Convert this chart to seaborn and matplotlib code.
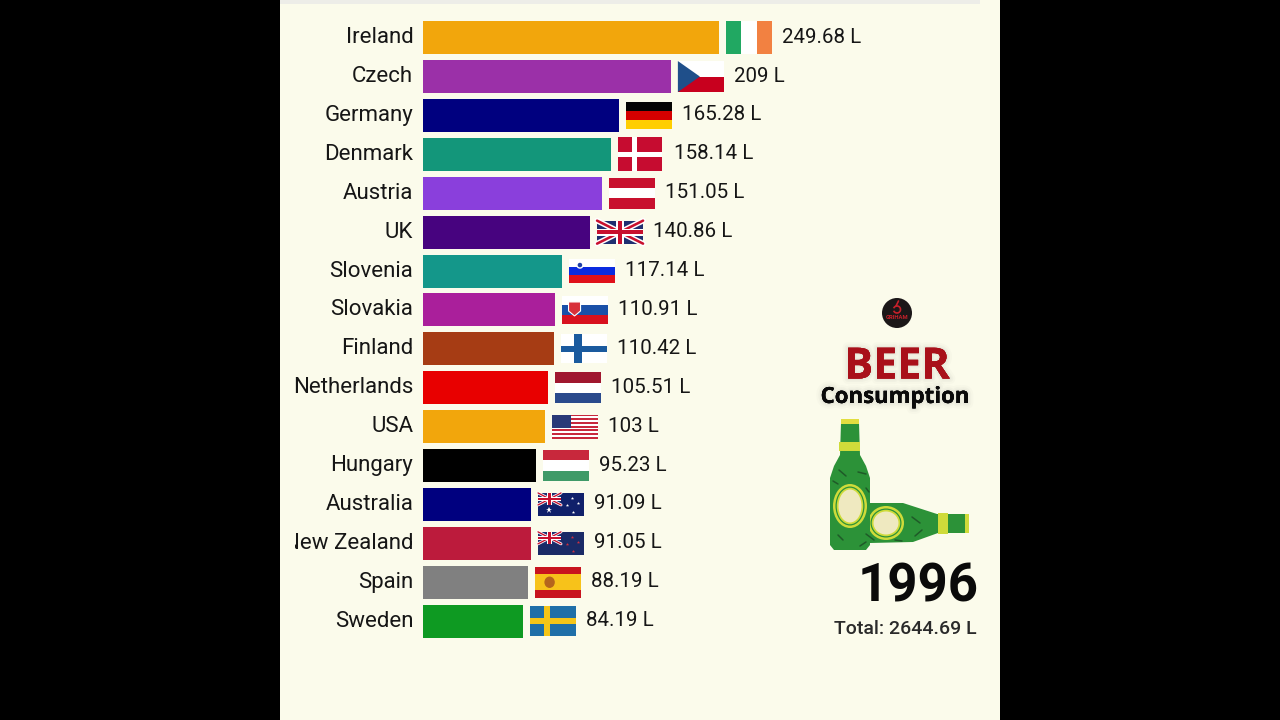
import matplotlib
matplotlib.use('Agg')
import matplotlib.pyplot as plt
import matplotlib.patheffects as pe
from matplotlib.patches import Rectangle, Polygon, Ellipse, Circle, Arc
from matplotlib.transforms import Bbox, ScaledTranslation
import pandas as pd
import seaborn as sns

countries = ['Ireland', 'Czech', 'Germany', 'Denmark', 'Austria', 'UK', 'Slovenia', 'Slovakia',
             'Finland', 'Netherlands', 'USA', 'Hungary', 'Australia', 'New Zealand', 'Spain', 'Sweden']
litres = [249.68, 209, 165.28, 158.14, 151.05, 140.86, 117.14, 110.91,
          110.42, 105.51, 103, 95.23, 91.09, 91.05, 88.19, 84.19]
bar_colors = ['#F2A60C', '#9B30A8', '#00007F', '#13967A', '#8A3FDC', '#47037F', '#14978A', '#AA1F9B',
              '#A63C14', '#E80000', '#F2A60C', '#000000', '#00007F', '#BC1B3C', '#808080', '#0E9A22']
year = '1996'
total = 'Total: 2644.69 L'

CREAM = '#FBFBEB'
sns.set_theme(style='white')
plt.rcParams['font.family'] = ['Roboto', 'DejaVu Sans']

fig = plt.figure(figsize=(12.8, 7.2), dpi=100, facecolor='black')

# whole figure axes in pixels, for the panel and the pictures
deco = fig.add_axes([0, 0, 1, 1], zorder=0)
deco.set_xlim(0, 1280)
deco.set_ylim(720, 0)
deco.axis('off')
deco.add_patch(Rectangle((280, 0), 720, 720, color=CREAM, lw=0))
deco.add_patch(Rectangle((280, 0), 700, 3.5, color='#EDEDE8', lw=0))

ax = fig.add_axes([423 / 1280, (720 - 640.6) / 720, 577 / 1280, 622.4 / 720], zorder=1)
ax.patch.set_alpha(0)
df = pd.DataFrame({'country': countries, 'litres': litres})
sns.barplot(data=df, x='litres', y='country', hue='country', palette=bar_colors,
            dodge=False, legend=False, width=0.85, saturation=1, linewidth=0, ax=ax)
ax.set_xlim(0, 577 / 1.186)
ax.set_ylim(15.5, -0.5)
ax.set_xlabel('')
ax.set_ylabel('')
ax.set_xticks([])
sns.despine(ax=ax, left=True, bottom=True)
ax.tick_params(axis='y', length=0, pad=7, labelsize=16, labelcolor='#161616')
up = ScaledTranslation(0, 2.5 / 100, fig.dpi_scale_trans)
for lab in ax.get_yticklabels():
    lab.set_transform(lab.get_transform() + up)
    lab.set_clip_on(True)
    lab.set_clip_box(Bbox([[295, 0], [423, 720]]))


def r(x0, y0, x1, y1, c, z=2):
    return deco.add_patch(Rectangle((x0, y0), x1 - x0, y1 - y0, color=c, lw=0, zorder=z))


def hbands(x, y, h, cols):
    for i, c in enumerate(cols):
        r(x, y + h * i / len(cols), x + 46, y + h * (i + 1) / len(cols), c)


def union(x, y, w, h):
    clip = r(x, y, x + w, y + h, '#1F2F70')
    lw = h * 0.16
    for xs, ys in [((x, x + w), (y, y + h)), ((x, x + w), (y + h, y))]:
        deco.plot(xs, ys, color='white', lw=lw * 1.1, zorder=3, clip_path=clip)
        deco.plot(xs, ys, color='#C8102E', lw=lw * 0.5, zorder=3, clip_path=clip)
    r(x + w * 0.41, y, x + w * 0.59, y + h, 'white', 3)
    r(x, y + h * 0.35, x + w, y + h * 0.65, 'white', 3)
    r(x + w * 0.45, y, x + w * 0.55, y + h, '#C8102E', 3)
    r(x, y + h * 0.41, x + w, y + h * 0.59, '#C8102E', 3)


def draw_flag(name, x, cy):
    if name == 'Ireland':
        hb = [(0, '#21A862'), (1, '#FFFFFF'), (2, '#F28141')]
        for i, c in hb:
            r(x + i * 46 / 3, cy - 16.5, x + (i + 1) * 46 / 3, cy + 16.5, c)
    elif name == 'Czech':
        y = cy - 15.5
        hbands(x, y, 31, ['#FFFFFF', '#C8001E'])
        deco.add_patch(Polygon([(x, y), (x + 22, y + 15.5), (x, y + 31)], color='#1F4F8A', lw=0, zorder=3))
    elif name == 'Germany':
        hbands(x, cy - 13.5, 27, ['#050505', '#D40000', '#FFCE00'])
    elif name == 'Denmark':
        r(x, cy - 17, x + 44, cy + 17, '#C60C30')
        r(x + 14, cy - 17, x + 19, cy + 17, 'white', 3)
        r(x, cy - 2.5, x + 44, cy + 2.5, 'white', 3)
    elif name == 'Austria':
        hbands(x, cy - 15.5, 31, ['#C8102E', '#FFFFFF', '#C8102E'])
    elif name == 'UK':
        union(x, cy - 11.5, 46, 23)
    elif name == 'Slovenia':
        hbands(x, cy - 12, 24, ['#FFFFFF', '#0A2BE0', '#E0101A'])
        deco.add_patch(Circle((x + 11, cy - 6), 3, color='#1F3FA8', ec='white', zorder=3))
    elif name == 'Slovakia':
        hbands(x, cy - 14, 28, ['#FFFFFF', '#1A50A8', '#D8101E'])
        deco.add_patch(Polygon([(x + 7, cy - 8), (x + 19, cy - 8), (x + 19, cy + 1), (x + 13, cy + 6), (x + 7, cy + 1)],
                               facecolor='#D8303A', edgecolor='white', lw=0.8, zorder=3))
    elif name == 'Finland':
        r(x, cy - 14.5, x + 46, cy + 14.5, 'white')
        r(x + 13, cy - 14.5, x + 21, cy + 14.5, '#1A5A9E', 3)
        r(x, cy - 3, x + 46, cy + 3, '#1A5A9E', 3)
    elif name == 'Netherlands':
        hbands(x, cy - 15.5, 31, ['#A0172F', '#FFFFFF', '#2A4A8C'])
    elif name == 'USA':
        for i in range(13):
            r(x, cy - 12 + i * 24 / 13, x + 46, cy - 12 + (i + 1) * 24 / 13, '#C8283C' if i % 2 == 0 else 'white')
        r(x, cy - 12, x + 19, cy + 1, '#2A3A78', 3)
    elif name == 'Hungary':
        hbands(x, cy - 15.5, 31, ['#C8283C', '#FFFFFF', '#3F9A68'])
    elif name in ('Australia', 'New Zealand'):
        r(x, cy - 11.5, x + 46, cy + 11.5, '#10206A' if name == 'Australia' else '#1A2A66')
        union(x, cy - 11.5, 23, 12)
        c = 'white' if name == 'Australia' else '#D03040'
        deco.plot([x + 34, x + 40, x + 29, x + 35], [cy - 6, cy - 1, cy + 1, cy + 8], ls='', marker='*', ms=2.5,
                  mew=0, color=c, zorder=4)
        if name == 'Australia':
            deco.plot([x + 11], [cy + 6], ls='', marker='*', ms=5, mew=0, color='white', zorder=4)
    elif name == 'Spain':
        r(x, cy - 15.5, x + 46, cy + 15.5, '#C8141E')
        r(x, cy - 8, x + 46, cy + 8, '#F7C21A', 3)
        deco.add_patch(Ellipse((x + 15, cy), 9, 10, color='#B5651D', zorder=4))
    elif name == 'Sweden':
        r(x, cy - 15, x + 46, cy + 15, '#1F6FA8')
        r(x + 14, cy - 15, x + 20, cy + 15, '#F5C518', 3)
        r(x, cy - 3, x + 46, cy + 3, '#F5C518', 3)


fig.canvas.draw()
for i, (name, val) in enumerate(zip(countries, litres)):
    px, py = ax.transData.transform((val, i))
    py = 720 - py
    draw_flag(name, px + 7, py)
    deco.text(px + 63, py - 2.5, f'{val:g} L', fontsize=14.8, color='#161616',
              va='center_baseline', ha='left', zorder=5)

# logo
deco.add_patch(Circle((897, 313), 15, color='#1B1718', lw=0, zorder=3))
deco.add_patch(Arc((897, 309.5), 7, 7, theta1=200, theta2=520, color='#C8202A', lw=1.2, zorder=4))
deco.plot([896, 898.5], [306, 301], color='#C8202A', lw=1.2, zorder=4)
deco.text(897, 317.5, 'GRIHAM', fontsize=4.2, fontweight='bold', color='#C8202A', ha='center', va='center', zorder=4)

# title
shadow = [pe.withStroke(linewidth=8, foreground='#A0A098', alpha=0.04),
          pe.withStroke(linewidth=5, foreground='#A0A098', alpha=0.06),
          pe.withStroke(linewidth=2.5, foreground='#A0A098', alpha=0.08), pe.Normal()]
deco.text(897, 362, 'BEER', family='Open Sans', fontweight='bold', fontsize=31, color='#A9101A',
          ha='center', va='center_baseline', path_effects=shadow, zorder=5)
deco.text(895, 395, 'Consumption', family='Open Sans', fontweight='bold', fontsize=16, color='#0A0A0A',
          ha='center', va='center_baseline', path_effects=shadow, zorder=5)

# bottles
GREEN = '#2C9238'
YEL = '#CFDB3A'
deco.add_patch(Polygon([(870, 503), (903, 503), (937, 514), (965, 514), (965, 533), (938, 533), (913, 542),
                        (870, 543)], color=GREEN, lw=0, zorder=2))
r(938, 513, 948, 533.5, YEL, 3)
r(965, 514, 969, 533, YEL, 3)
deco.add_patch(Polygon([(841, 423), (859, 423), (860, 455), (866, 466), (870, 478), (870, 545), (866, 550), (834, 550),
                        (830, 545), (830, 478), (834, 466), (840, 455)], color=GREEN, lw=0, zorder=4))
r(840.5, 419, 859, 424, '#E2DE40', 5)
r(839, 442, 860, 451, YEL, 5)
for cx, cy, rx, ry, z in [(850, 506, 17, 22, 5), (886, 523, 18, 17, 3)]:
    deco.add_patch(Ellipse((cx, cy), 2 * rx, 2 * ry, color=YEL, lw=0, zorder=z))
    deco.add_patch(Ellipse((cx, cy), 2 * rx - 5, 2 * ry - 5, color=GREEN, lw=0, zorder=z))
    deco.add_patch(Ellipse((cx, cy), 2 * rx - 7.5, 2 * ry - 7.5, color=YEL, lw=0, zorder=z))
    deco.add_patch(Ellipse((cx, cy), 2 * rx - 11, 2 * ry - 11, color='#EFE9C0', lw=0, zorder=z))
# dark scuffs on the glass
for xs, ys in [((839, 846), (470, 476)), ((858, 866), (472, 474)), ((833, 838), (481, 484)), ((866, 869), (488, 492)),
               ((912, 920), (517, 523)), ((915, 922), (536, 530)), ((866, 874), (534, 540)), ((895, 902), (540, 541)),
               ((838, 843), (535, 540)), ((860, 866), (546, 542))]:
    deco.plot(xs, ys, color='#1F5A28', lw=1.1, zorder=6)

deco.text(918, 581, year, fontsize=38, fontweight='bold', color='#0A0A0A',
          ha='center', va='center_baseline', zorder=5)
deco.text(905.5, 627, total, fontsize=14, fontweight=500, color='#2A2A2A', ha='center', va='center_baseline', zorder=5)

fig.savefig('out.png', dpi=100, facecolor='black')
